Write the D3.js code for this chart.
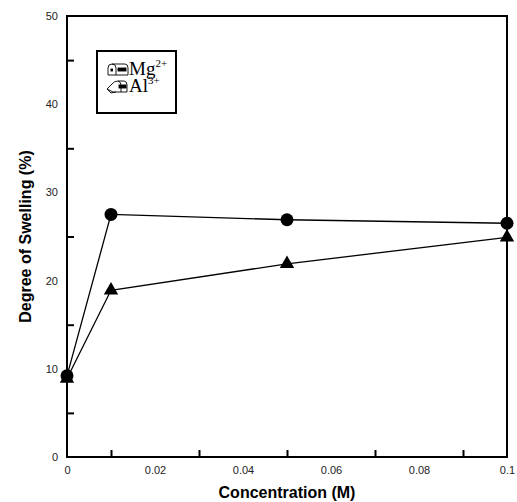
<!DOCTYPE html>
<meta charset="utf-8">
<script src="https://d3js.org/d3.v7.min.js"></script>
<style>
  body { margin: 0; background: #fff; }
  .sans { font-family: Arial, "Liberation Sans", sans-serif; }
  .serif { font-family: "Liberation Serif", "Times New Roman", serif; }
</style>
<div id="chart"></div>
<script>
// concentration (M) and degree of swelling (%)
const conc = [0, 0.01, 0.05, 0.1];
const mgSwelling = [9.2, 27.5, 26.9, 26.5];
const alSwelling = [8.9, 18.9, 21.9, 24.9];
const xTickLabels = [0, 0.02, 0.04, 0.06, 0.08, 0.1];
const xMinorTicks = [0.01, 0.03, 0.05, 0.07, 0.09];
const yTickLabels = [0, 10, 20, 30, 40, 50];
const yMinorTicks = [5, 15, 25, 35, 45];

const W = 517, H = 502;
const margin = {top: 16, right: 10, bottom: 45, left: 67};
const width = W - margin.left - margin.right,
      height = H - margin.top - margin.bottom;

const svg = d3.select("#chart").append("svg")
    .attr("width", W).attr("height", H);
const g = svg.append("g")
    .attr("transform", `translate(${margin.left},${margin.top})`);

const x = d3.scaleLinear().domain([0, 0.1]).range([0, width]);
const y = d3.scaleLinear().domain([0, 50]).range([height, 0]);

// frame
g.append("rect")
  .attr("width", width).attr("height", height)
  .attr("fill", "none").attr("stroke", "#000").attr("stroke-width", 2);

// minor ticks, drawn inward
g.append("g").attr("transform", `translate(0,${height})`)
  .call(d3.axisTop(x).tickValues(xMinorTicks).tickSize(7).tickFormat(""))
  .call(a => a.select(".domain").remove())
  .selectAll("line").attr("stroke-width", 2);
g.append("g")
  .call(d3.axisRight(y).tickValues(yMinorTicks).tickSize(7).tickFormat(""))
  .call(a => a.select(".domain").remove())
  .selectAll("line").attr("stroke-width", 2);

// tick labels
g.append("g").attr("transform", `translate(0,${height})`)
  .call(d3.axisBottom(x).tickValues(xTickLabels).tickSize(0).tickPadding(9)
    .tickFormat(d => d === 0 ? "0" : String(+d.toFixed(2))))
  .call(a => a.select(".domain").remove())
  .selectAll("text").attr("class", "sans").attr("font-size", 11).attr("fill", "#222");
g.append("g")
  .call(d3.axisLeft(y).tickValues(yTickLabels).tickSize(0).tickPadding(9))
  .call(a => a.select(".domain").remove())
  .selectAll("text").attr("class", "sans").attr("font-size", 11).attr("fill", "#222");

// axis titles
svg.append("text").attr("class", "sans")
  .attr("x", margin.left + width / 2).attr("y", 498)
  .attr("text-anchor", "middle").attr("font-weight", "bold").attr("font-size", 16)
  .text("Concentration (M)");
svg.append("text").attr("class", "sans")
  .attr("transform", `translate(31,${margin.top + height / 2}) rotate(-90)`)
  .attr("text-anchor", "middle").attr("font-weight", "bold").attr("font-size", 16)
  .text("Degree of Swelling (%)");

// series
const line = d3.line().x(d => x(d[0])).y(d => y(d[1]));
const mgPts = conc.map((c, i) => [c, mgSwelling[i]]);
const alPts = conc.map((c, i) => [c, alSwelling[i]]);

g.append("path").datum(alPts).attr("d", line)
  .attr("fill", "none").attr("stroke", "#000").attr("stroke-width", 1.3);
g.append("path").datum(mgPts).attr("d", line)
  .attr("fill", "none").attr("stroke", "#000").attr("stroke-width", 1.3);

g.selectAll(".tri").data(alPts).enter().append("path")
  .attr("transform", d => `translate(${x(d[0])},${y(d[1])})`)
  .attr("d", d3.symbol(d3.symbolTriangle, 90))
  .attr("fill", "#000");
g.selectAll(".dot").data(mgPts).enter().append("circle")
  .attr("cx", d => x(d[0])).attr("cy", d => y(d[1]))
  .attr("r", 6.5).attr("fill", "#000");

// legend
const leg = svg.append("g").attr("transform", "translate(97,51)");
leg.append("rect").attr("width", 79).attr("height", 62)
  .attr("fill", "#fff").attr("stroke", "#000").attr("stroke-width", 2);

// closed mailbox icon
const ic1 = leg.append("g").attr("transform", "translate(11,13)")
  .attr("fill", "none").attr("stroke", "#000").attr("stroke-width", 0.9);
ic1.append("path").attr("d", "M0,11 L0,4 Q0,0 4,0 L17,0 Q20,0 20,4 L20,11 Z").attr("fill", "#fff");
ic1.append("path").attr("d", "M4,0 Q8,0 8,4 L8,11");
ic1.append("rect").attr("x", 10).attr("y", 4).attr("width", 8).attr("height", 3).attr("fill", "#000");
ic1.append("rect").attr("x", 3).attr("y", 5).attr("width", 1.5).attr("height", 2).attr("fill", "#000");

// open mailbox icon
const ic2 = leg.append("g").attr("transform", "translate(9,30)")
  .attr("fill", "none").attr("stroke", "#000").attr("stroke-width", 0.9);
ic2.append("path").attr("d", "M1,8 L6,3 Q8,0 12,0 L18,0 Q21,0 21,4 L21,11 L7,11 Z").attr("fill", "#fff");
ic2.append("path").attr("d", "M12,0 Q15,1 15,4 L15,11");
ic2.append("path").attr("d", "M1,8 L5,12 L10,11");
ic2.append("rect").attr("x", 13).attr("y", 4).attr("width", 7).attr("height", 3).attr("fill", "#000");

// ion labels with superscript charges as separate texts
function ionLabel(sym, charge, yBase) {
  const t = leg.append("text").attr("class", "serif").attr("x", 32).attr("y", yBase)
    .attr("font-size", 19).text(sym);
  const w = t.node().getComputedTextLength();
  leg.append("text").attr("class", "serif").attr("x", 32 + w).attr("y", yBase - 8)
    .attr("font-size", 11).text(charge);
}
ionLabel("Mg", "2+", 24);
ionLabel("Al", "3+", 41);
</script>
